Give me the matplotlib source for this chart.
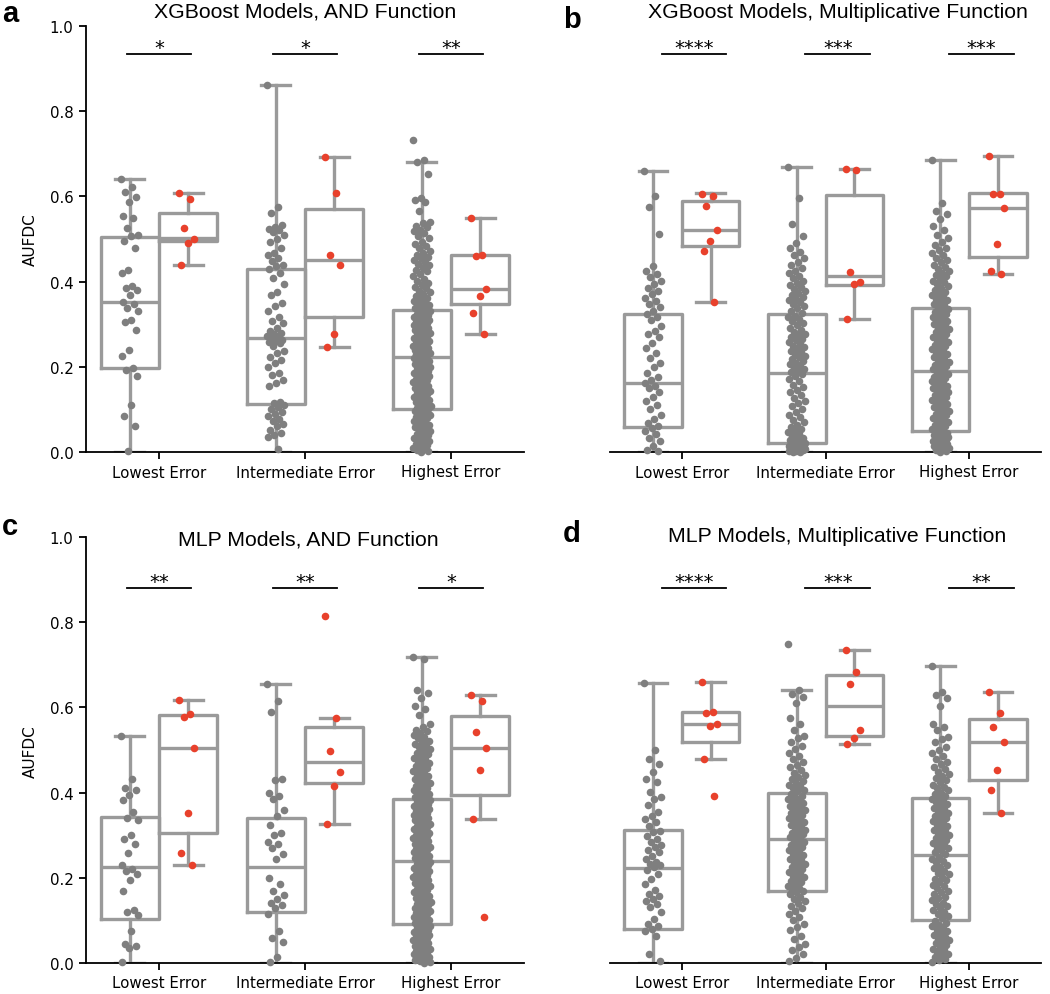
import numpy as np
import matplotlib.pyplot as plt
plt.rcParams['font.family'] = 'DejaVu Sans'

groups = ['Lowest Error', 'Intermediate Error', 'Highest Error']
titles = ['XGBoost Models, AND Function', 'XGBoost Models, Multiplicative Function',
          'MLP Models, AND Function', 'MLP Models, Multiplicative Function']
letters = ['a', 'b', 'c', 'd']
stars = [['*', '*', '**'], ['****', '***', '***'], ['**', '**', '*'], ['****', '***', '**']]

# box stats: (whislo, q1, med, q3, whishi) per error group
a_gray_box = [(0.0, 0.198, 0.351, 0.505, 0.642), (0.0, 0.112, 0.267, 0.429, 0.862), (0.0, 0.100, 0.223, 0.333, 0.680)]
a_red_box = [(0.438, 0.495, 0.503, 0.561, 0.607), (0.246, 0.317, 0.451, 0.571, 0.693), (0.278, 0.347, 0.382, 0.462, 0.550)]
b_gray_box = [(0.0, 0.059, 0.163, 0.323, 0.660), (0.0, 0.020, 0.186, 0.323, 0.669), (0.0, 0.049, 0.189, 0.339, 0.686)]
b_red_box = [(0.353, 0.484, 0.521, 0.589, 0.607), (0.313, 0.393, 0.412, 0.603, 0.664), (0.417, 0.458, 0.573, 0.607, 0.696)]
c_gray_box = [(0.0, 0.103, 0.225, 0.342, 0.533), (0.0, 0.119, 0.225, 0.341, 0.654), (0.0, 0.092, 0.240, 0.384, 0.718)]
c_red_box = [(0.229, 0.305, 0.505, 0.581, 0.618), (0.327, 0.423, 0.473, 0.555, 0.576), (0.338, 0.395, 0.504, 0.580, 0.629)]
d_gray_box = [(0.0, 0.080, 0.222, 0.313, 0.657), (0.0, 0.168, 0.291, 0.399, 0.640), (0.0, 0.101, 0.254, 0.387, 0.698)]
d_red_box = [(0.479, 0.518, 0.560, 0.589, 0.659), (0.514, 0.532, 0.603, 0.677, 0.734), (0.352, 0.429, 0.518, 0.572, 0.637)]

# red points
a_red = [[0.607, 0.595, 0.526, 0.501, 0.491, 0.438], [0.693, 0.609, 0.462, 0.438, 0.278, 0.246],
         [0.550, 0.462, 0.459, 0.382, 0.366, 0.326, 0.278]]
b_red = [[0.606, 0.601, 0.577, 0.520, 0.495, 0.473, 0.353], [0.664, 0.662, 0.423, 0.399, 0.394, 0.313],
         [0.696, 0.606, 0.605, 0.573, 0.488, 0.426, 0.417]]
c_red = [[0.618, 0.585, 0.577, 0.504, 0.351, 0.258, 0.229], [0.815, 0.576, 0.497, 0.449, 0.415, 0.327],
         [0.629, 0.615, 0.543, 0.504, 0.453, 0.338, 0.107]]
d_red = [[0.659, 0.590, 0.587, 0.560, 0.557, 0.479, 0.391], [0.734, 0.682, 0.655, 0.547, 0.529, 0.514],
         [0.637, 0.586, 0.555, 0.518, 0.453, 0.406, 0.352]]

# gray points
a_low_gray = [0.642, 0.623, 0.61, 0.598, 0.586, 0.553, 0.55, 0.525, 0.51, 0.507, 0.495, 0.48, 0.427, 0.42,
              0.39, 0.385, 0.38, 0.368, 0.352, 0.348, 0.337, 0.332, 0.31, 0.305, 0.287, 0.24, 0.225, 0.197,
              0.193, 0.178, 0.11, 0.084, 0.062, 0.003]
a_mid_gray = [0.862, 0.576, 0.562, 0.532, 0.528, 0.524, 0.52, 0.516, 0.51, 0.5, 0.492, 0.48, 0.468, 0.462,
              0.455, 0.448, 0.44, 0.436, 0.43, 0.42, 0.408, 0.395, 0.375, 0.368, 0.35, 0.342, 0.332, 0.316,
              0.308, 0.302, 0.29, 0.285, 0.28, 0.276, 0.272, 0.268, 0.265, 0.262, 0.26, 0.258, 0.255, 0.25,
              0.238, 0.232, 0.222, 0.215, 0.208, 0.2, 0.186, 0.18, 0.17, 0.163, 0.155, 0.118, 0.114, 0.11,
              0.105, 0.1, 0.095, 0.09, 0.085, 0.078, 0.072, 0.066, 0.06, 0.052, 0.045, 0.04, 0.035, 0.006]
a_high_gray = [0.733, 0.686, 0.681, 0.652, 0.597, 0.591, 0.586, 0.566, 0.541, 0.537, 0.531, 0.528, 0.522,
               0.519, 0.513, 0.507, 0.502, 0.494, 0.489, 0.483, 0.478, 0.472, 0.467, 0.463, 0.458, 0.455,
               0.451, 0.447, 0.442, 0.438, 0.433, 0.428, 0.424, 0.419, 0.414, 0.407, 0.402, 0.397, 0.393,
               0.388, 0.384, 0.379, 0.375, 0.371, 0.367, 0.362, 0.358, 0.355, 0.351, 0.348, 0.344, 0.341,
               0.338, 0.335, 0.332, 0.33, 0.327, 0.325, 0.322, 0.32, 0.318, 0.315, 0.313, 0.31, 0.307, 0.305,
               0.303, 0.3, 0.297, 0.295, 0.293, 0.291, 0.288, 0.286, 0.284, 0.281, 0.279, 0.277, 0.275,
               0.272, 0.27, 0.268, 0.266, 0.263, 0.261, 0.259, 0.257, 0.255, 0.252, 0.25, 0.248, 0.246,
               0.243, 0.241, 0.239, 0.237, 0.235, 0.233, 0.231, 0.229, 0.227, 0.225, 0.221, 0.218, 0.216,
               0.213, 0.21, 0.207, 0.205, 0.202, 0.199, 0.196, 0.194, 0.191, 0.188, 0.186, 0.183, 0.18,
               0.178, 0.175, 0.172, 0.17, 0.167, 0.164, 0.162, 0.159, 0.156, 0.154, 0.151, 0.148, 0.146,
               0.143, 0.14, 0.138, 0.135, 0.132, 0.13, 0.127, 0.124, 0.122, 0.119, 0.117, 0.114, 0.112,
               0.109, 0.107, 0.104, 0.102, 0.099, 0.096, 0.093, 0.091, 0.088, 0.085, 0.082, 0.079, 0.076,
               0.073, 0.07, 0.067, 0.064, 0.061, 0.058, 0.055, 0.052, 0.049, 0.046, 0.043, 0.04, 0.037,
               0.034, 0.031, 0.028, 0.025, 0.022, 0.019, 0.016, 0.013, 0.01, 0.007, 0.004, 0.002, 0.0]

b_low_gray = [0.66, 0.601, 0.576, 0.511, 0.437, 0.425, 0.417, 0.41, 0.402, 0.395, 0.386, 0.378, 0.372,
              0.362, 0.355, 0.348, 0.34, 0.332, 0.325, 0.318, 0.31, 0.296, 0.285, 0.278, 0.27, 0.256, 0.243,
              0.232, 0.22, 0.21, 0.2, 0.186, 0.175, 0.168, 0.162, 0.155, 0.15, 0.14, 0.128, 0.12, 0.11, 0.1,
              0.088, 0.078, 0.068, 0.062, 0.056, 0.05, 0.042, 0.033, 0.025, 0.015, 0.005, 0.002]
b_mid_gray = [0.669, 0.596, 0.536, 0.506, 0.49, 0.478, 0.47, 0.462, 0.455, 0.447, 0.44, 0.432, 0.425, 0.42,
              0.414, 0.408, 0.402, 0.397, 0.392, 0.387, 0.382, 0.378, 0.373, 0.368, 0.364, 0.36, 0.356,
              0.351, 0.347, 0.342, 0.337, 0.332, 0.327, 0.32, 0.316, 0.312, 0.307, 0.302, 0.297, 0.292,
              0.287, 0.282, 0.278, 0.274, 0.27, 0.266, 0.262, 0.258, 0.254, 0.25, 0.246, 0.242, 0.238,
              0.234, 0.23, 0.226, 0.222, 0.218, 0.214, 0.21, 0.206, 0.202, 0.198, 0.194, 0.19, 0.187,
              0.183, 0.178, 0.172, 0.166, 0.158, 0.152, 0.146, 0.14, 0.134, 0.127, 0.12, 0.114, 0.108, 0.1,
              0.094, 0.088, 0.082, 0.076, 0.07, 0.064, 0.058, 0.054, 0.05, 0.046, 0.042, 0.038, 0.034,
              0.031, 0.028, 0.025, 0.023, 0.021, 0.019, 0.018, 0.017, 0.016, 0.015, 0.014, 0.013, 0.012,
              0.011, 0.01, 0.009, 0.008, 0.007, 0.006, 0.005, 0.004, 0.003, 0.002, 0.001, 0.0]
b_high_gray = [0.686, 0.585, 0.566, 0.558, 0.546, 0.531, 0.522, 0.51, 0.502, 0.494, 0.487, 0.48, 0.474,
               0.468, 0.462, 0.456, 0.45, 0.445, 0.44, 0.435, 0.43, 0.425, 0.42, 0.416, 0.412, 0.407, 0.402,
               0.398, 0.394, 0.39, 0.385, 0.38, 0.376, 0.372, 0.368, 0.364, 0.36, 0.356, 0.352, 0.348, 0.344,
               0.34, 0.336, 0.332, 0.329, 0.325, 0.321, 0.318, 0.314, 0.31, 0.307, 0.303, 0.3, 0.296, 0.292,
               0.289, 0.285, 0.281, 0.278, 0.274, 0.27, 0.267, 0.263, 0.259, 0.256, 0.252, 0.248, 0.245,
               0.241, 0.237, 0.234, 0.23, 0.226, 0.223, 0.219, 0.215, 0.212, 0.208, 0.204, 0.201, 0.197,
               0.194, 0.191, 0.186, 0.183, 0.18, 0.176, 0.173, 0.17, 0.166, 0.163, 0.16, 0.156, 0.153, 0.15,
               0.146, 0.143, 0.14, 0.136, 0.133, 0.13, 0.126, 0.123, 0.12, 0.116, 0.113, 0.11, 0.106, 0.103,
               0.1, 0.096, 0.093, 0.09, 0.086, 0.083, 0.08, 0.076, 0.073, 0.07, 0.066, 0.063, 0.06, 0.056,
               0.053, 0.05, 0.047, 0.045, 0.043, 0.041, 0.039, 0.037, 0.035, 0.033, 0.031, 0.029, 0.027,
               0.025, 0.023, 0.021, 0.019, 0.017, 0.015, 0.013, 0.011, 0.009, 0.007, 0.005, 0.003, 0.001]

c_low_gray = [0.533, 0.431, 0.41, 0.405, 0.395, 0.383, 0.355, 0.34, 0.335, 0.3, 0.292, 0.28, 0.258, 0.23,
              0.22, 0.215, 0.21, 0.195, 0.17, 0.125, 0.12, 0.112, 0.075, 0.045, 0.04, 0.035, 0.002]
c_mid_gray = [0.654, 0.616, 0.59, 0.432, 0.43, 0.4, 0.393, 0.385, 0.36, 0.345, 0.325, 0.305, 0.3, 0.285,
              0.28, 0.27, 0.255, 0.245, 0.2, 0.185, 0.17, 0.16, 0.15, 0.14, 0.135, 0.13, 0.115, 0.075, 0.058,
              0.05, 0.015, 0.003]
c_high_gray = [0.718, 0.713, 0.642, 0.634, 0.621, 0.603, 0.597, 0.582, 0.561, 0.553, 0.548, 0.544, 0.539,
               0.535, 0.531, 0.527, 0.522, 0.518, 0.514, 0.51, 0.506, 0.502, 0.498, 0.494, 0.49, 0.486,
               0.482, 0.478, 0.474, 0.47, 0.466, 0.462, 0.458, 0.455, 0.451, 0.447, 0.443, 0.44, 0.436,
               0.432, 0.429, 0.425, 0.422, 0.418, 0.415, 0.411, 0.408, 0.405, 0.402, 0.399, 0.396, 0.393,
               0.39, 0.388, 0.386, 0.382, 0.379, 0.377, 0.374, 0.371, 0.369, 0.366, 0.364, 0.361, 0.358,
               0.356, 0.353, 0.351, 0.348, 0.345, 0.343, 0.34, 0.338, 0.335, 0.332, 0.33, 0.327, 0.325,
               0.322, 0.319, 0.317, 0.314, 0.312, 0.309, 0.306, 0.304, 0.301, 0.299, 0.296, 0.293, 0.291,
               0.288, 0.286, 0.283, 0.28, 0.278, 0.275, 0.273, 0.27, 0.267, 0.265, 0.262, 0.26, 0.257,
               0.254, 0.252, 0.249, 0.247, 0.244, 0.242, 0.238, 0.235, 0.232, 0.229, 0.227, 0.224, 0.221,
               0.218, 0.216, 0.213, 0.21, 0.207, 0.205, 0.202, 0.199, 0.196, 0.194, 0.191, 0.188, 0.185,
               0.183, 0.18, 0.177, 0.174, 0.172, 0.169, 0.166, 0.163, 0.161, 0.158, 0.155, 0.152, 0.15,
               0.147, 0.144, 0.141, 0.139, 0.136, 0.133, 0.13, 0.128, 0.125, 0.122, 0.119, 0.117, 0.114,
               0.111, 0.108, 0.106, 0.103, 0.1, 0.097, 0.095, 0.09, 0.088, 0.086, 0.083, 0.081, 0.078,
               0.076, 0.073, 0.071, 0.068, 0.066, 0.063, 0.061, 0.058, 0.056, 0.053, 0.051, 0.048, 0.046,
               0.043, 0.041, 0.038, 0.036, 0.033, 0.031, 0.028, 0.026, 0.023, 0.021, 0.018, 0.016, 0.013,
               0.011, 0.008, 0.006, 0.004, 0.002, 0.0]

d_low_gray = [0.657, 0.501, 0.479, 0.467, 0.449, 0.432, 0.426, 0.402, 0.389, 0.385, 0.372, 0.354, 0.346,
              0.338, 0.33, 0.322, 0.311, 0.307, 0.298, 0.291, 0.284, 0.276, 0.272, 0.266, 0.26, 0.252, 0.244,
              0.236, 0.233, 0.229, 0.225, 0.218, 0.209, 0.197, 0.185, 0.172, 0.162, 0.158, 0.15, 0.146,
              0.139, 0.131, 0.12, 0.104, 0.092, 0.088, 0.08, 0.076, 0.063, 0.021, 0.005]
d_mid_gray = [0.749, 0.64, 0.632, 0.625, 0.61, 0.576, 0.562, 0.548, 0.534, 0.528, 0.519, 0.51, 0.503,
              0.494, 0.486, 0.478, 0.471, 0.465, 0.459, 0.452, 0.447, 0.441, 0.436, 0.431, 0.427, 0.423,
              0.419, 0.415, 0.411, 0.407, 0.403, 0.397, 0.393, 0.39, 0.386, 0.383, 0.379, 0.376, 0.372,
              0.369, 0.365, 0.362, 0.358, 0.355, 0.351, 0.348, 0.344, 0.341, 0.337, 0.334, 0.33, 0.327,
              0.323, 0.32, 0.316, 0.313, 0.309, 0.306, 0.302, 0.299, 0.296, 0.293, 0.289, 0.285, 0.281,
              0.277, 0.273, 0.269, 0.265, 0.261, 0.257, 0.253, 0.249, 0.245, 0.241, 0.237, 0.233, 0.229,
              0.225, 0.221, 0.217, 0.213, 0.209, 0.205, 0.201, 0.197, 0.193, 0.189, 0.185, 0.181, 0.177,
              0.173, 0.17, 0.166, 0.161, 0.156, 0.151, 0.146, 0.14, 0.134, 0.128, 0.121, 0.114, 0.108, 0.1,
              0.092, 0.085, 0.077, 0.064, 0.056, 0.045, 0.038, 0.03, 0.021, 0.012, 0.004]
d_high_gray = [0.698, 0.637, 0.628, 0.621, 0.604, 0.562, 0.555, 0.548, 0.531, 0.525, 0.518, 0.507, 0.5,
               0.494, 0.486, 0.479, 0.473, 0.466, 0.46, 0.455, 0.449, 0.444, 0.439, 0.434, 0.429, 0.424,
               0.419, 0.414, 0.41, 0.405, 0.4, 0.396, 0.392, 0.389, 0.385, 0.381, 0.377, 0.373, 0.369,
               0.365, 0.361, 0.357, 0.353, 0.349, 0.345, 0.341, 0.337, 0.333, 0.329, 0.325, 0.321, 0.317,
               0.313, 0.309, 0.305, 0.301, 0.297, 0.293, 0.289, 0.285, 0.281, 0.277, 0.273, 0.269, 0.265,
               0.261, 0.257, 0.25, 0.245, 0.24, 0.236, 0.231, 0.226, 0.222, 0.217, 0.212, 0.208, 0.203,
               0.198, 0.194, 0.189, 0.184, 0.18, 0.175, 0.17, 0.166, 0.161, 0.156, 0.152, 0.147, 0.142,
               0.138, 0.133, 0.128, 0.124, 0.119, 0.114, 0.11, 0.105, 0.098, 0.094, 0.09, 0.086, 0.082,
               0.078, 0.074, 0.07, 0.066, 0.062, 0.058, 0.054, 0.05, 0.046, 0.042, 0.038, 0.034, 0.03,
               0.026, 0.022, 0.018, 0.014, 0.01, 0.006, 0.002]

BOX = '#9a9a9a'
GRAY = '#7f7f7f'
RED = '#e8412c'
W, H = 1050, 995


def jitter(n, w=0.06):
    return ((np.arange(n) * 0.618034) % 1 - 0.5) * 2 * w


def draw(ax, gray_box, red_box, gray_pts, red_pts, marks, line_y, span, yaxis):
    for i in range(3):
        for st, pts, off, col in [(gray_box[i], gray_pts[i], -0.2, GRAY), (red_box[i], red_pts[i], 0.2, RED)]:
            lo, q1, med, q3, hi = st
            ax.bxp([dict(whislo=lo, q1=q1, med=med, q3=q3, whishi=hi, fliers=[])],
                   positions=[i + off], widths=0.4, capwidths=0.2, showfliers=False,
                   boxprops=dict(color=BOX, lw=2.4), whiskerprops=dict(color=BOX, lw=2.4),
                   capprops=dict(color=BOX, lw=2.4), medianprops=dict(color=BOX, lw=2.4))
            y = np.array(pts)
            ax.scatter(i + off + jitter(len(y)), y, s=30, color=col, linewidths=0, zorder=3, clip_on=False)
        ax.plot([i + span[0], i + span[1]], [line_y, line_y], color='black', lw=1.3, clip_on=False)
        ax.text(i + (span[0] + span[1]) / 2, line_y + 0.003, marks[i], ha='center', va='baseline', fontsize=14)
    ax.set_xlim(-0.5, 2.5)
    ax.set_ylim(0, 1)
    ax.set_xticks([0, 1, 2])
    ax.set_xticklabels(groups)
    ax.spines['top'].set_visible(False)
    ax.spines['right'].set_visible(False)
    for s in ['left', 'bottom']:
        ax.spines[s].set_linewidth(1.3)
    ax.tick_params(length=5, width=1.3, labelsize=10.8, pad=4)
    if yaxis:
        ax.set_yticks([0, 0.2, 0.4, 0.6, 0.8, 1.0])
        ax.set_yticklabels(['0.0', '0.2', '0.4', '0.6', '0.8', '1.0'])
    else:
        ax.spines['left'].set_visible(False)
        ax.set_yticks([])


fig = plt.figure(figsize=(W / 100, H / 100), dpi=100)


def add_ax(x0, x1, ytop, ybot):
    return fig.add_axes([x0 / W, 1 - ybot / H, (x1 - x0) / W, (ybot - ytop) / H])


ax_a = add_ax(86, 524, 27, 453)
ax_b = add_ax(610, 1041, 27, 453)
ax_c = add_ax(86, 524, 538, 964)
ax_d = add_ax(610, 1041, 538, 964)

draw(ax_a, a_gray_box, a_red_box, [a_low_gray, a_mid_gray, a_high_gray], a_red, stars[0], 0.934, (-0.22, 0.22), True)
draw(ax_b, b_gray_box, b_red_box, [b_low_gray, b_mid_gray, b_high_gray], b_red, stars[1], 0.934, (-0.14, 0.31), False)
draw(ax_c, c_gray_box, c_red_box, [c_low_gray, c_mid_gray, c_high_gray], c_red, stars[2], 0.88, (-0.22, 0.22), True)
draw(ax_d, d_gray_box, d_red_box, [d_low_gray, d_mid_gray, d_high_gray], d_red, stars[3], 0.88, (-0.14, 0.31), False)

# titles, letters, y labels
title_pos = [(305, 18), (838, 18), (308, 545), (837, 542)]
letter_pos = [(2, 22), (563, 28), (2, 535), (563, 542)]
for k in range(4):
    fig.text(title_pos[k][0] / W, 1 - title_pos[k][1] / H, titles[k], ha='center', va='baseline',
             fontsize=15.3, family='Liberation Sans')
    fig.text(letter_pos[k][0] / W, 1 - letter_pos[k][1] / H, letters[k], ha='left', va='baseline',
             fontsize=21, fontweight='bold', family='Liberation Sans')
for yy in [240, 752]:
    fig.text(30 / W, 1 - yy / H, 'AUFDC', rotation=90, ha='center', va='center', fontsize=11)

plt.savefig('out.png', dpi=100)
